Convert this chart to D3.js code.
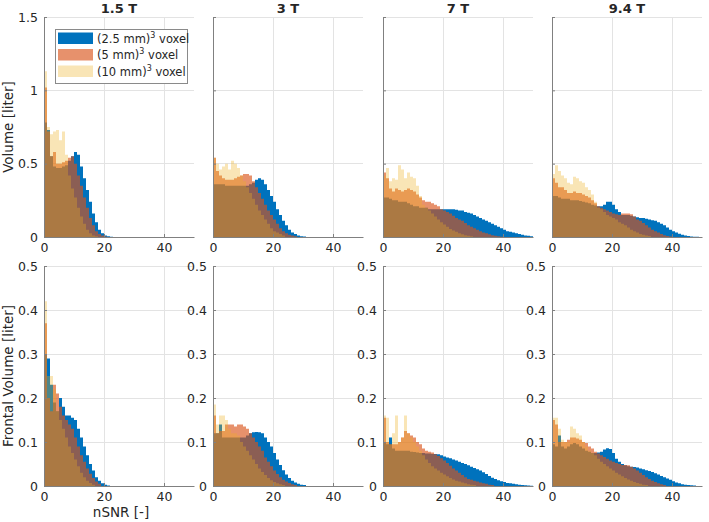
<!DOCTYPE html>
<html><head><meta charset="utf-8">
<script src="https://cdn.jsdelivr.net/npm/d3@7"></script>
<style>body{margin:0;background:#fff}svg{display:block}text{font-family:"DejaVu Sans",sans-serif;fill:#262626}</style>
</head><body>
<svg id="c" width="709" height="522"></svg>
<script>
// ---- data ----
const fieldStrengths = ["1.5 T", "3 T", "7 T", "9.4 T"];
const voxelLabels = ["(2.5 mm)", "(5 mm)", "(10 mm)"];
const xTicks = [0, 20, 40];
const yTicksWhole = [0, 0.5, 1, 1.5];
const yTicksFrontal = [0, 0.1, 0.2, 0.3, 0.4, 0.5];
// histograms, bin width 1 nSNR, starting at 0
// whole brain volume [liter]
const whole15_vox25 = [0.78,0.73,0.55,0.48,0.47,0.47,0.48,0.49,0.52,0.55,0.58,0.56,0.48,0.40,0.32,0.24,0.16,0.10,0.05,0.025,0.01,0.005,0.002];
const whole15_vox5  = [1.02,0.72,0.55,0.58,0.50,0.50,0.51,0.52,0.54,0.55,0.50,0.42,0.35,0.27,0.20,0.13,0.08,0.04,0.02,0.01,0.004];
const whole15_vox10 = [1.13,0.75,0.70,0.72,0.73,0.66,0.72,0.56,0.42,0.33,0.27,0.20,0.14,0.09,0.05,0.025,0.01,0.005];
const whole3_vox25 = [0.36,0.36,0.36,0.36,0.35,0.35,0.35,0.35,0.35,0.35,0.35,0.35,0.36,0.37,0.39,0.40,0.39,0.36,0.32,0.28,0.24,0.19,0.15,0.11,0.08,0.05,0.03,0.02,0.01,0.005,0.003];
const whole3_vox5  = [0.54,0.45,0.42,0.40,0.39,0.39,0.39,0.40,0.41,0.42,0.43,0.43,0.42,0.38,0.34,0.30,0.26,0.22,0.18,0.15,0.12,0.09,0.06,0.04,0.025,0.015,0.01,0.005];
const whole3_vox10 = [0.54,0.50,0.46,0.48,0.50,0.46,0.52,0.50,0.47,0.42,0.38,0.34,0.30,0.26,0.22,0.18,0.15,0.12,0.09,0.06,0.04,0.03,0.02,0.01];
const whole7_vox25 = [0.27,0.27,0.26,0.25,0.25,0.24,0.24,0.24,0.23,0.22,0.21,0.21,0.20,0.20,0.20,0.19,0.19,0.19,0.19,0.19,0.19,0.19,0.19,0.19,0.185,0.18,0.18,0.17,0.165,0.16,0.15,0.14,0.13,0.12,0.11,0.10,0.09,0.08,0.07,0.06,0.05,0.04,0.035,0.03,0.025,0.02,0.015,0.01,0.008,0.005];
const whole7_vox5  = [0.44,0.40,0.33,0.31,0.33,0.32,0.31,0.32,0.33,0.32,0.31,0.29,0.27,0.25,0.24,0.24,0.23,0.22,0.21,0.19,0.18,0.17,0.16,0.145,0.13,0.12,0.11,0.095,0.08,0.07,0.06,0.05,0.04,0.03,0.025,0.018,0.012,0.008,0.005,0.002];
const whole7_vox10 = [0.42,0.47,0.38,0.40,0.39,0.49,0.46,0.40,0.44,0.41,0.40,0.35,0.28,0.22,0.20,0.18,0.16,0.14,0.12,0.10,0.085,0.07,0.055,0.045,0.035,0.025,0.018,0.012,0.008,0.005];
const whole94_vox25 = [0.28,0.28,0.27,0.26,0.26,0.26,0.25,0.25,0.25,0.245,0.24,0.235,0.23,0.22,0.215,0.21,0.21,0.22,0.24,0.24,0.22,0.19,0.17,0.15,0.15,0.15,0.145,0.14,0.135,0.13,0.13,0.125,0.12,0.115,0.11,0.10,0.09,0.08,0.065,0.05,0.04,0.03,0.022,0.015,0.01,0.006,0.004,0.002,0.001];
const whole94_vox5  = [0.40,0.37,0.34,0.34,0.32,0.30,0.30,0.31,0.30,0.30,0.29,0.28,0.27,0.25,0.23,0.21,0.20,0.19,0.18,0.17,0.16,0.155,0.15,0.16,0.16,0.16,0.155,0.14,0.12,0.11,0.095,0.08,0.065,0.05,0.04,0.03,0.02,0.012,0.007,0.004];
const whole94_vox10 = [0.43,0.49,0.45,0.42,0.40,0.37,0.36,0.41,0.40,0.38,0.37,0.34,0.32,0.29,0.24,0.20,0.19,0.17,0.15,0.14,0.13,0.12,0.10,0.09,0.08,0.065,0.05,0.04,0.03,0.02,0.015,0.01,0.006];
// frontal lobe volume [liter]
const front15_vox25 = [0.30,0.29,0.23,0.19,0.17,0.20,0.18,0.16,0.16,0.155,0.15,0.13,0.11,0.09,0.07,0.05,0.035,0.02,0.012,0.006,0.003,0.001];
const front15_vox5  = [0.37,0.20,0.17,0.23,0.21,0.18,0.16,0.15,0.14,0.13,0.11,0.09,0.07,0.055,0.04,0.028,0.018,0.01,0.005];
const front15_vox10 = [0.42,0.25,0.25,0.22,0.17,0.15,0.13,0.11,0.09,0.075,0.06,0.045,0.03,0.02,0.012,0.007,0.003];
const front3_vox25 = [0.12,0.12,0.14,0.11,0.11,0.11,0.11,0.11,0.11,0.11,0.11,0.115,0.12,0.122,0.123,0.122,0.12,0.11,0.10,0.09,0.075,0.06,0.048,0.036,0.026,0.018,0.012,0.008,0.005,0.003,0.002];
const front3_vox5  = [0.16,0.12,0.125,0.125,0.14,0.14,0.14,0.135,0.14,0.14,0.135,0.13,0.12,0.11,0.10,0.09,0.08,0.065,0.055,0.045,0.035,0.027,0.02,0.014,0.01,0.007,0.004,0.002];
const front3_vox10 = [0.185,0.14,0.16,0.16,0.15,0.13,0.12,0.12,0.115,0.10,0.09,0.08,0.07,0.06,0.05,0.04,0.032,0.025,0.018,0.013,0.009,0.006,0.004,0.002];
const front7_vox25 = [0.10,0.095,0.11,0.085,0.08,0.08,0.08,0.08,0.08,0.078,0.077,0.076,0.075,0.075,0.074,0.074,0.073,0.073,0.072,0.07,0.067,0.065,0.063,0.06,0.058,0.055,0.052,0.05,0.047,0.044,0.041,0.038,0.035,0.031,0.027,0.023,0.019,0.016,0.013,0.011,0.009,0.007,0.006,0.005,0.004,0.003,0.002,0.0015,0.001,0.0005];
const front7_vox5  = [0.155,0.10,0.095,0.095,0.095,0.10,0.11,0.125,0.12,0.115,0.11,0.10,0.095,0.085,0.08,0.078,0.076,0.072,0.068,0.063,0.058,0.052,0.046,0.04,0.035,0.03,0.025,0.02,0.016,0.014,0.012,0.01,0.008,0.006,0.005,0.003,0.002];
const front7_vox10 = [0.16,0.155,0.095,0.12,0.16,0.10,0.11,0.16,0.12,0.11,0.10,0.09,0.08,0.07,0.06,0.052,0.045,0.04,0.035,0.03,0.026,0.022,0.018,0.015,0.012,0.01,0.008,0.006,0.004,0.003,0.002];
const front94_vox25 = [0.095,0.09,0.115,0.09,0.085,0.09,0.095,0.098,0.095,0.09,0.085,0.08,0.078,0.075,0.075,0.076,0.078,0.083,0.086,0.084,0.075,0.062,0.055,0.05,0.047,0.045,0.044,0.043,0.042,0.04,0.038,0.036,0.034,0.032,0.029,0.026,0.023,0.02,0.017,0.014,0.011,0.008,0.006,0.004,0.003,0.002,0.0015,0.001];
const front94_vox5  = [0.15,0.14,0.10,0.10,0.10,0.105,0.11,0.11,0.108,0.105,0.10,0.098,0.09,0.085,0.078,0.074,0.07,0.066,0.062,0.058,0.055,0.052,0.05,0.048,0.048,0.047,0.044,0.04,0.035,0.03,0.025,0.02,0.016,0.012,0.009,0.006,0.004,0.002];
const front94_vox10 = [0.155,0.155,0.13,0.105,0.10,0.10,0.135,0.13,0.12,0.115,0.10,0.09,0.08,0.075,0.07,0.062,0.055,0.05,0.045,0.04,0.035,0.03,0.026,0.022,0.018,0.015,0.012,0.009,0.007,0.005,0.003,0.002];

const wholeData = [
  [whole15_vox25, whole15_vox5, whole15_vox10],
  [whole3_vox25, whole3_vox5, whole3_vox10],
  [whole7_vox25, whole7_vox5, whole7_vox10],
  [whole94_vox25, whole94_vox5, whole94_vox10]];
const frontData = [
  [front15_vox25, front15_vox5, front15_vox10],
  [front3_vox25, front3_vox5, front3_vox10],
  [front7_vox25, front7_vox5, front7_vox10],
  [front94_vox25, front94_vox5, front94_vox10]];

// ---- style ----
const colors = ["rgb(0,114,189)", "rgb(217,83,25)", "rgb(237,177,32)"];
const alphas = [1, 0.64, 0.33];
const panelLeft = [44, 213, 383, 552];
const panelW = 150;
const tickFont = 12.5, labelFont = 13.5;
const rows = [
  {top: 17, bottom: 237, max: 1.5, ticks: yTicksWhole, data: wholeData, label: "Volume [liter]", allLabels: false},
  {top: 266, bottom: 486, max: 0.5, ticks: yTicksFrontal, data: frontData, label: "Frontal Volume [liter]", allLabels: true}
];

const svg = d3.select("#c");

rows.forEach((row, ri) => {
  row.data.forEach((series, pi) => {
    const x = d3.scaleLinear().domain([0, 50]).range([panelLeft[pi], panelLeft[pi] + panelW]);
    const y = d3.scaleLinear().domain([0, row.max]).range([row.bottom, row.top]);
    const g = svg.append("g");
    // grid
    g.selectAll(".gx").data(xTicks.filter(t => t > 0)).join("line")
      .attr("x1", d => x(d)).attr("x2", d => x(d)).attr("y1", row.top).attr("y2", row.bottom)
      .attr("stroke", "#e3e3e3").attr("stroke-width", 1).attr("shape-rendering", "crispEdges");
    g.selectAll(".gy").data(row.ticks.filter(t => t > 0)).join("line")
      .attr("x1", x(0)).attr("x2", x(50)).attr("y1", d => y(d)).attr("y2", d => y(d))
      .attr("stroke", "#e3e3e3").attr("stroke-width", 1).attr("shape-rendering", "crispEdges");
    // histograms
    series.forEach((vals, si) => {
      const pts = vals.map((v, i) => [i, v]);
      pts.push([vals.length, 0]);
      const area = d3.area().x(d => x(d[0])).y0(y(0)).y1(d => y(d[1])).curve(d3.curveStepAfter);
      g.append("path").attr("d", area(pts)).attr("fill", colors[si]).attr("fill-opacity", alphas[si]);
    });
    // axes
    const ax = d3.axisBottom(x).tickValues(xTicks).tickSizeInner(-3).tickSizeOuter(0).tickPadding(6);
    const axg = g.append("g").attr("transform", `translate(0,${row.bottom})`).call(ax);
    const ay = d3.axisLeft(y).tickValues(row.ticks).tickSizeInner(-3).tickSizeOuter(0).tickPadding(6)
      .tickFormat(d => String(d));
    const ayg = g.append("g").attr("transform", `translate(${x(0)},0)`).call(ay);
    if (!(row.allLabels || pi === 0)) ayg.selectAll("text").remove();
    [axg, ayg].forEach(a => {
      a.select(".domain").attr("stroke", "#808080");
      a.selectAll(".tick line").attr("stroke", "#808080");
      a.selectAll("text").attr("font-size", tickFont).attr("fill", "#262626").style("font-family", '"DejaVu Sans", sans-serif');
    });
    if (ri === 0) {
      svg.append("text").attr("x", x(25)).attr("y", 13).attr("text-anchor", "middle")
        .attr("font-size", 13).attr("font-weight", "bold").text(fieldStrengths[pi]);
    }
  });
  svg.append("text").attr("transform", `translate(13,${(row.top + row.bottom) / 2}) rotate(-90)`)
    .attr("text-anchor", "middle").attr("font-size", labelFont).text(row.label);
});

svg.append("text").attr("x", 121).attr("y", 517).attr("text-anchor", "middle").attr("font-size", labelFont).text("nSNR [-]");

// legend
const lg = svg.append("g");
lg.append("rect").attr("x", 55.5).attr("y", 29.5).attr("width", 132).attr("height", 54)
  .attr("fill", "#fff").attr("stroke", "#8a8a8a").attr("stroke-width", 1);
voxelLabels.forEach((lab, i) => {
  const cy = 38 + i * 16.5;
  lg.append("rect").attr("x", 58).attr("y", cy - 5.5).attr("width", 35).attr("height", 11.5)
    .attr("fill", colors[i]).attr("fill-opacity", alphas[i]);
  const t = lg.append("text").attr("x", 97).attr("y", cy + 4.5).attr("font-size", 11.5);
  t.append("tspan").text(lab);
  t.append("tspan").attr("dy", -5).attr("font-size", 8).text("3");
  t.append("tspan").attr("dy", 5).text(" voxel");
});
</script>
</body></html>
